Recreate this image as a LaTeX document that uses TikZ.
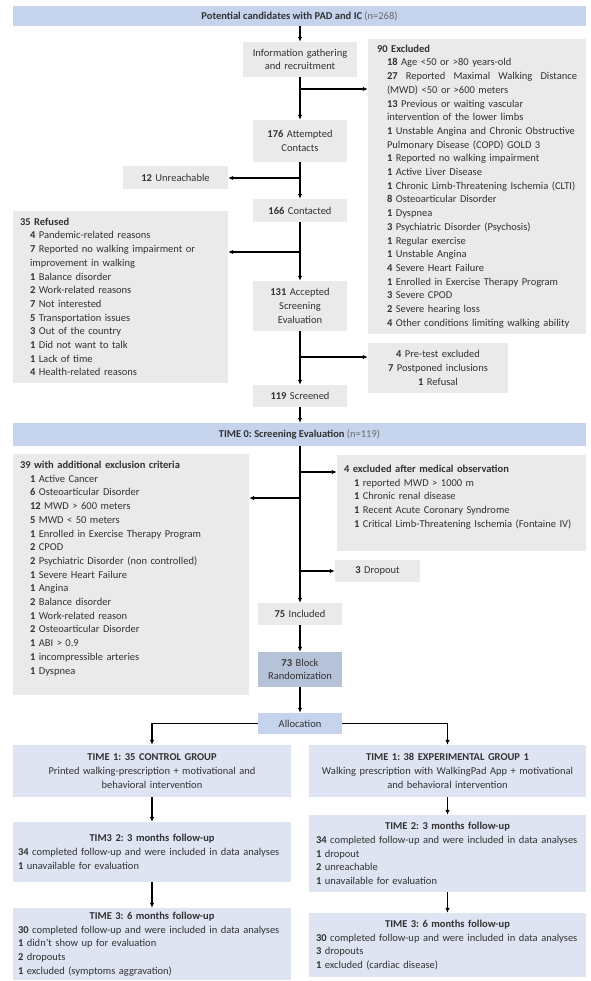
\documentclass[tikz,border=0pt]{standalone}
\usepackage{fontspec}
\setmainfont{Carlito}
\usetikzlibrary{arrows.meta}
\definecolor{bannerc}{RGB}{197,211,237}
\definecolor{timec}{RGB}{222,228,242}
\definecolor{grayc}{RGB}{234,234,234}
\definecolor{blockc}{RGB}{182,194,216}
\definecolor{txtc}{RGB}{50,50,50}
\definecolor{ntxt}{RGB}{105,105,105}
\newcommand{\Ind}{\hspace*{10pt}}
\newcommand{\B}[1]{\textbf{#1}}
\frenchspacing
\begin{document}
\begin{tikzpicture}[x=1pt,y=-1pt,
  font=\fontsize{10.5}{13.7}\selectfont,
  box/.style={rectangle, inner sep=0pt, text=txtc},
  gbox/.style={box, fill=grayc},
  bbox/.style={box, fill=bannerc},
  tbox/.style={box, fill=timec},
  kbox/.style={box, fill=blockc},
  arr/.style={draw=black, line width=1.2pt, -{Latex[length=5pt,width=4.5pt]}}]
\useasboundingbox (0,0) rectangle (590,981);

% top banner
\node[bbox, minimum width=573, minimum height=20] (banner1) at (299.5,16)
  {\B{Potential candidates with PAD and IC} {\color{ntxt}(n=268)}};
\node[gbox, minimum width=114, minimum height=35, text width=112, align=center] (info) at (300,59.5)
  {Information gathering\\and recruitment};
\node[gbox, minimum width=218, minimum height=295, text width=200, align=left] (ex90) at (477,186.5)
  {\B{90 Excluded}\\
   \Ind\B{18} Age <50 or >80 years-old\\
   \Ind\hbox to 190pt{\B{27}\hfill Reported\hfill Maximal\hfill Walking\hfill Distance}\\
   \Ind(MWD) <50 or >600 meters\\
   \Ind\B{13} Previous or waiting vascular\\
   \Ind intervention of the lower limbs\\
   \Ind\B{1} Unstable Angina and Chronic Obstructive\\
   \Ind Pulmonary Disease (COPD) GOLD 3\\
   \Ind\B{1} Reported no walking impairment\\
   \Ind\B{1} Active Liver Disease\\
   \Ind\B{1} Chronic Limb-Threatening Ischemia (CLTI)\\
   \Ind\B{8} Osteoarticular Disorder\\
   \Ind\B{1} Dyspnea\\
   \Ind\B{3} Psychiatric Disorder (Psychosis)\\
   \Ind\B{1} Regular exercise\\
   \Ind\B{1} Unstable Angina\\
   \Ind\B{4} Severe Heart Failure\\
   \Ind\B{1} Enrolled in Exercise Therapy Program\\
   \Ind\B{3} Severe CPOD\\
   \Ind\B{2} Severe hearing loss\\
   \Ind\B{4} Other conditions limiting walking ability};
\node[gbox, minimum width=94, minimum height=42, text width=92, align=center] (c176) at (300,141)
  {\B{176} Attempted\\Contacts};
\node[gbox, minimum width=105, minimum height=23, text width=100, align=center] (unr) at (175.5,177.5)
  {\B{12} Unreachable};
\node[gbox, minimum width=94, minimum height=23, text width=92, align=center] (c166) at (300,210.5)
  {\B{166} Contacted};
\node[gbox, minimum width=215, minimum height=172, text width=201, align=left] (ref) at (120.5,297)
  {\B{35 Refused}\\
   \Ind\B{4} Pandemic-related reasons\\
   \Ind\B{7} Reported no walking impairment or\\
   \Ind improvement in walking\\
   \Ind\B{1} Balance disorder\\
   \Ind\B{2} Work-related reasons\\
   \Ind\B{7} Not interested\\
   \Ind\B{5} Transportation issues\\
   \Ind\B{3} Out of the country\\
   \Ind\B{1} Did not want to talk\\
   \Ind\B{1} Lack of time\\
   \Ind\B{4} Health-related reasons};
\node[gbox, minimum width=94, minimum height=50, text width=92, align=center] (c131) at (300,306)
  {\B{131} Accepted\\Screening\\Evaluation};
\node[gbox, minimum width=140, minimum height=50, text width=136, align=center] (pre) at (438,368)
  {\B{4} Pre-test excluded\\\B{7} Postponed inclusions\\\B{1} Refusal};
\node[gbox, minimum width=94, minimum height=22, text width=92, align=center] (c119) at (300,396)
  {\B{119} Screened};

% TIME 0
\node[bbox, minimum width=573, minimum height=23] (banner0) at (299.5,434.5)
  {\B{TIME 0: Screening Evaluation} {\color{ntxt}(n=119)}};
\node[gbox, minimum width=236, minimum height=241, text width=222, align=left] (t39) at (131,574.5)
  {\B{39 with additional exclusion criteria}\\
   \Ind\B{1} Active Cancer\\
   \Ind\B{6} Osteoarticular Disorder\\
   \Ind\B{12} MWD > 600 meters\\
   \Ind\B{5} MWD < 50 meters\\
   \Ind\B{1} Enrolled in Exercise Therapy Program\\
   \Ind\B{2} CPOD\\
   \Ind\B{2} Psychiatric Disorder (non controlled)\\
   \Ind\B{1} Severe Heart Failure\\
   \Ind\B{1} Angina\\
   \Ind\B{2} Balance disorder\\
   \Ind\B{1} Work-related reason\\
   \Ind\B{2} Osteoarticular Disorder\\
   \Ind\B{1} ABI > 0.9\\
   \Ind\B{1} incompressible arteries\\
   \Ind\B{1} Dyspnea\\
   \mbox{}};
\node[gbox, minimum width=249, minimum height=96, text width=235, align=left] (ex4) at (461.5,503)
  {\B{4 excluded after medical observation}\\
   \Ind\B{1} reported MWD > 1000 m\\
   \Ind\B{1} Chronic renal disease\\
   \Ind\B{1} Recent Acute Coronary Syndrome\\
   \Ind\B{1} Critical Limb-Threatening Ischemia (Fontaine IV)\\
   \mbox{}};
\node[gbox, minimum width=85, minimum height=22, text width=80, align=center] (drop) at (377.5,571)
  {\B{3} Dropout};
\node[gbox, minimum width=84, minimum height=22, text width=82, align=center] (inc) at (300,614)
  {\B{75} Included};
\node[kbox, minimum width=84, minimum height=35, text width=82, align=center] (blk) at (300,669.5)
  {\B{73} Block\\Randomization};
\node[bbox, minimum width=84, minimum height=21, text width=82, align=center] (alloc) at (300,723.5)
  {Allocation};

% groups
\node[tbox, minimum width=278, minimum height=52, text width=272, align=center] (ctl1) at (152,771)
  {\B{TIME 1: 35 CONTROL GROUP}\\Printed walking-prescription + motivational and\\behavioral intervention};
\node[tbox, minimum width=277, minimum height=52, text width=272, align=center] (exp1) at (447.5,771)
  {\B{TIME 1: 38 EXPERIMENTAL GROUP 1}\\Walking prescription with WalkingPad App + motivational\\and behavioral intervention};
\node[tbox, minimum width=278, minimum height=60, text width=268, align=left] (ctl2) at (152,852)
  {\makebox[\linewidth]{\B{TIM3 2: 3 months follow-up}}\\
   \B{34} completed follow-up and were included in data analyses\\
   \B{1} unavailable for evaluation};
\node[tbox, minimum width=277, minimum height=77, text width=263, align=left] (exp2) at (447.5,853.5)
  {\makebox[\linewidth]{\B{TIME 2: 3 months follow-up}}\\
   \B{34} completed follow-up and were included in data analyses\\
   \B{1} dropout\\
   \B{2} unreachable\\
   \B{1} unavailable for evaluation};
\node[tbox, minimum width=278, minimum height=72, text width=268, align=left] (ctl3) at (152,944)
  {\makebox[\linewidth]{\B{TIME 3: 6 months follow-up}}\\
   \B{30} completed follow-up and were included in data analyses\\
   \B{1} didn't show up for evaluation\\
   \B{2} dropouts\\
   \B{1} excluded (symptoms aggravation)};
\node[tbox, minimum width=277, minimum height=64, text width=263, align=left] (exp3) at (447.5,945)
  {\makebox[\linewidth]{\B{TIME 3: 6 months follow-up}}\\
   \B{30} completed follow-up and were included in data analyses\\
   \B{3} dropouts\\
   \B{1} excluded (cardiac disease)};

% branch points
\coordinate (b1) at (300,89);
\coordinate (b2) at (300,178);
\coordinate (b3) at (300,252);
\coordinate (b4) at (300,357);
\coordinate (b5) at (300,472);
\coordinate (b6) at (300,498);
\coordinate (b7) at (300,571);

% connectors
\draw[arr] (info.north |- banner1.south) -- (info.north);
\draw[arr] (info.south) -- (c176.north);
\draw[arr] (b1) -- (b1 -| ex90.west);
\draw[arr] (c176.south) -- (c166.north);
\draw[arr] (b2) -- (b2 -| unr.east);
\draw[arr] (c166.south) -- (c131.north);
\draw[arr] (b3) -- (b3 -| ref.east);
\draw[arr] (c131.south) -- (c119.north);
\draw[arr] (b4) -- (b4 -| pre.west);
\draw[arr] (c119.south) -- (c119.south |- banner0.north);
\draw[arr] (inc.north |- banner0.south) -- (inc.north);
\draw[arr] (b5) -- (b5 -| ex4.west);
\draw[arr] (b6) -- (b6 -| t39.east);
\draw[arr] (b7) -- (b7 -| drop.west);
\draw[arr] (inc.south) -- (blk.north);
\draw[arr] (blk.south) -- (alloc.north);
\draw[arr] (alloc.west) -| (ctl1.north);
\draw[arr] (alloc.east) -| (exp1.north);
\draw[arr] (ctl1.south) -- (ctl2.north);
\draw[arr] (ctl2.south) -- (ctl3.north);
\draw[arr] (exp1.south) -- (exp2.north);
\draw[arr] (exp2.south) -- (exp3.north);
\end{tikzpicture}
\end{document}
